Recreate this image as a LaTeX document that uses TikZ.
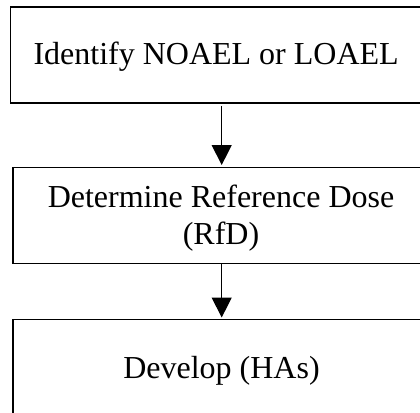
\documentclass[tikz,border=0pt]{standalone}
\usepackage{fontspec}
\setmainfont{Liberation Serif}
\usetikzlibrary{arrows.meta}

\begin{document}
\begin{tikzpicture}[x=1pt, y=-1pt,
  stepbox/.style={draw=black, line width=1.6pt, rectangle, inner sep=0pt},
  steptext/.style={inner sep=0pt, font=\fontsize{32}{37}\selectfont},
  flow/.style={draw=black, line width=1.2pt, -{Triangle[length=20pt, width=20pt]}}]
  \useasboundingbox (0,0) rectangle (420,412);
  \clip (0,0) rectangle (420,412);

  % three stacked boxes (the right and lower edges run past the frame)
  \node[stepbox, minimum width=422.5pt, minimum height=95.7pt] (b1) at (221.75,54.85) {};
  \node[stepbox, minimum width=418pt, minimum height=96pt] (b2) at (222,215.3) {};
  \node[stepbox, minimum width=418pt, minimum height=96pt] (b3) at (222,367.3) {};

  % labels (base of a two-line label is the baseline of its last line)
  \node[steptext, anchor=base west] (t1) at (33.3,65) {Identify NOAEL or LOAEL};
  \node[steptext, anchor=base, align=center] (t2) at (221,244.5) {Determine Reference Dose\\(RfD)};
  \node[steptext, anchor=base] (t3) at (221.5,378.3) {Develop (HAs)};

  % connectors
  \draw[flow, shorten <=2.3pt, shorten >=1.5pt] ([xshift=-0.05pt]b1.south) -- ([xshift=-0.3pt]b2.north);
  \draw[flow, shorten >=1pt] ([xshift=-0.3pt]b2.south) -- ([xshift=-0.3pt]b3.north);
\end{tikzpicture}
\end{document}
